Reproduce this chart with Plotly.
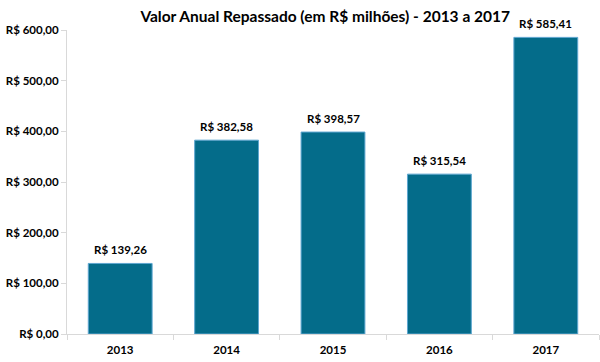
import plotly.graph_objects as go

years = ["2013", "2014", "2015", "2016", "2017"]
values = [139.26, 382.58, 398.57, 315.54, 585.41]
tick_vals = [0, 100, 200, 300, 400, 500, 600]

def brl(v):
    return "R$ " + f"{v:.2f}".replace(".", ",")

FONT = "Lato"
W = "bold"

fig = go.Figure(go.Bar(
    x=years, y=values,
    cliponaxis=False,
    marker=dict(color="#046c8a", line=dict(color="#5ea6d0", width=1)),
    width=0.6,
    hoverinfo="skip",
))

# category axis: annotation x given as category index
for i, v in enumerate(values):
    fig.add_annotation(
        x=i, y=v, text=brl(v), showarrow=False,
        yanchor="bottom", yshift=5,
        font=dict(size=11.5, color="#000000", family=FONT, weight=W),
    )

fig.update_layout(
    width=600, height=362,
    margin=dict(l=67, r=1, t=30, b=28),
    paper_bgcolor="white", plot_bgcolor="white",
    showlegend=False,
    title=dict(text="Valor Anual Repassado (em R$ milhões) - 2013 a 2017",
               xref="container", x=0.542, xanchor="center",
               yref="container", y=0.953, yanchor="middle",
               font=dict(size=15.5, family=FONT, color="#000000", weight=W)),
    font=dict(family=FONT, color="#000000"),
)
fig.update_xaxes(
    type="category",
    showline=True, linecolor="#d9d9d9", linewidth=1,
    ticks="outside", tickson="boundaries", ticklen=5, tickcolor="#d9d9d9",
    tickfont=dict(size=11.5, weight=W),
    ticklabelstandoff=5,
    showgrid=False,
)
fig.update_yaxes(
    range=[0, 600], tickvals=tick_vals, ticktext=[brl(v) for v in tick_vals],
    showline=True, linecolor="#d9d9d9", linewidth=1,
    ticks="outside", ticklen=5, tickcolor="#d9d9d9",
    tickfont=dict(size=11.5, weight=W),
    showgrid=False, zeroline=False,
)

fig.write_html("out.html", config={"displayModeBar": False},
               post_script="document.body.style.margin='0px';")
